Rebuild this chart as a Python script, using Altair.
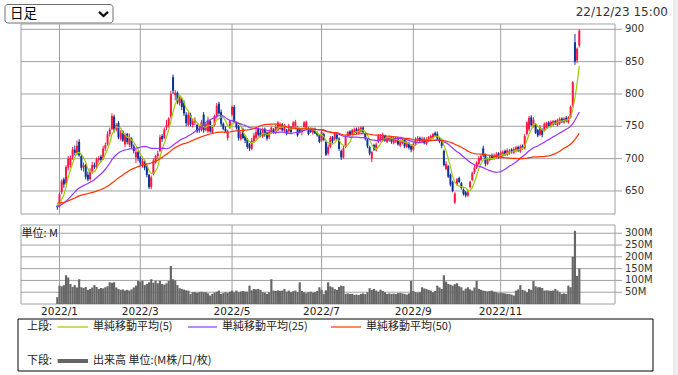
import altair as alt
import pandas as pd

# ---------------- data ----------------
OPEN = [627,626,648,668,662,686,690,702,714,708,726,704,686,690,675,668,680,690,686,698,
        703,700,716,722,738,746,765,745,755,731,742,722,738,722,731,719,702,710,702,690,
        696,688,675,656,676,694,704,712,735,732,748,750,765,826,798,802,786,792,786,768,
        752,768,752,756,752,746,744,768,744,742,758,740,752,766,785,772,754,746,732,748,
        768,780,755,750,730,745,735,730,722,715,727,732,746,740,734,746,740,733,740,745,
        740,744,746,753,743,744,742,748,749,748,747,746,741,749,746,747,747,740,746,740,
        736,728,738,726,708,718,733,730,737,731,712,702,718,735,742,738,740,746,740,742,
        748,738,730,718,700,721,713,726,728,728,735,726,728,733,724,726,732,720,724,729,
        718,724,720,714,722,728,732,726,731,723,728,730,732,740,738,731,725,712,684,688,
        675,664,632,660,670,662,652,648,643,656,667,679,686,692,698,716,706,692,698,705,
        700,703,708,702,705,712,706,708,714,709,712,718,711,720,716,738,745,764,750,752,
        744,737,745,744,748,756,750,752,758,752,754,762,756,763,756,764,782,880,852,875]
HIGH = [629,648,668,671,690,704,705,718,720,728,730,707,694,692,680,685,695,694,702,704,
        706,720,725,742,748,770,768,755,758,744,744,740,740,739,733,722,715,713,704,700,
        698,690,676,674,700,706,712,737,738,748,760,764,805,830,806,804,798,794,790,772,
        772,771,762,764,754,750,760,772,756,765,760,752,768,786,788,776,756,750,745,760,
        782,783,758,752,742,748,737,732,724,732,740,745,748,746,748,748,742,745,750,747,
        752,758,756,755,754,746,754,750,758,760,750,748,748,758,759,749,748,747,748,742,
        738,744,740,728,722,735,735,741,739,733,714,720,736,743,744,746,748,748,749,750,
        750,740,732,720,712,723,725,738,738,740,737,735,736,735,734,734,734,730,733,731,
        728,726,722,725,733,735,734,734,733,733,735,737,740,742,742,733,728,714,696,690,
        677,666,648,670,672,664,654,650,652,666,680,690,696,704,706,720,708,702,706,708,
        708,710,710,712,713,714,716,715,716,718,720,720,722,722,738,758,766,767,764,754,
        746,752,747,756,757,758,759,760,760,762,764,764,764,766,766,782,820,893,872,900]
LOW = [621,624,645,655,660,682,686,698,705,705,703,682,680,668,665,666,676,684,684,694,
       695,698,712,720,734,744,740,742,730,728,726,718,722,718,716,708,693,696,690,686,
       682,671,653,653,674,692,700,710,726,730,744,748,762,800,790,784,782,775,766,750,
       750,750,748,752,740,740,742,740,742,740,740,738,750,762,768,750,744,740,728,746,
       766,755,745,728,728,730,724,715,712,713,725,730,734,733,732,734,728,730,738,738,
       738,742,744,742,740,736,740,738,746,745,734,739,736,747,744,736,740,737,738,734,
       724,726,727,704,705,716,724,728,728,712,698,700,716,733,734,736,738,738,738,740,
       738,728,716,705,695,712,711,724,726,726,726,724,726,723,722,724,720,718,722,716,
       716,714,710,712,720,726,724,724,722,721,726,728,730,734,728,724,716,688,682,670,
       657,648,630,658,662,652,643,640,641,654,665,676,684,690,696,702,688,690,696,698,
       698,700,700,700,703,704,704,706,708,707,710,710,709,714,714,736,742,750,748,738,
       733,735,733,742,746,748,748,750,752,750,752,755,754,756,754,762,780,845,848,872]
CLOSE = [625,645,665,660,687,700,701,714,709,720,705,686,690,672,668,680,690,687,699,701,
         698,716,721,738,745,766,745,752,733,740,728,737,726,734,719,712,710,700,694,696,
         686,675,656,671,697,704,708,733,730,745,752,762,800,805,802,788,795,780,770,755,
         768,753,758,760,742,744,756,744,754,760,742,750,766,782,770,754,746,742,742,758,
         780,757,748,732,738,732,728,718,716,728,736,741,737,735,745,737,731,741,748,740,
         749,756,753,744,752,739,751,741,756,757,736,741,744,756,757,738,741,744,739,736,
         726,741,729,706,718,732,727,739,731,715,702,716,733,741,737,744,745,740,746,748,
         741,731,719,708,710,714,722,735,734,737,728,732,734,726,731,730,722,727,729,719,
         725,717,714,722,730,732,727,731,724,730,733,735,738,736,731,727,720,690,692,672,
         660,650,646,668,664,655,645,643,648,664,678,686,694,701,704,705,692,699,703,701,
         705,707,702,709,710,707,713,712,710,715,717,712,719,716,735,756,763,752,760,740,
         736,749,737,754,755,750,757,758,754,760,761,757,762,758,764,780,818,850,870,898]
# volume in millions
VOLUME = [29,78,75,80,122,112,85,72,80,70,105,71,68,72,60,64,70,80,72,64,
          68,66,71,75,92,90,92,70,64,60,62,57,60,57,62,70,78,98,95,98,
          80,85,92,105,90,98,88,98,85,82,88,98,161,105,100,80,67,64,61,58,
          57,43,50,50,48,50,52,50,50,45,36,43,48,52,57,43,46,50,47,52,
          57,50,57,50,53,55,53,52,78,58,64,62,64,60,50,48,43,50,105,57,
          55,58,56,57,64,52,57,50,54,57,50,92,55,50,46,50,52,48,50,55,
          71,60,43,58,92,75,71,64,60,72,78,76,43,45,42,43,39,40,38,43,
          45,42,50,67,60,64,57,52,61,55,50,43,45,43,44,42,46,47,45,43,
          40,45,98,55,50,48,50,71,66,64,60,57,50,55,78,70,64,122,95,85,
          82,78,84,88,75,71,57,65,71,62,57,70,98,64,60,57,55,53,55,57,
          52,50,46,48,46,45,43,43,40,36,57,62,80,60,57,50,64,60,98,75,
          71,71,68,57,58,57,56,57,64,57,50,43,45,43,78,71,200,310,119,150]
# closes before the visible window (estimated from where the averages start)
PRE_CLOSE = [628,632,637,641,636,630,633,638,635,629,632,636,640,629,
             635,642,646,640,637,643,645,638,634,636,632,
             620,612,608,615,618,610,
             618,625,630,636,641,638,633,628,635,640,634,627,624,628,
             630,624,627,624]
MONTH_TICK_INDEX = [1, 38, 80, 121, 163, 203]
MONTH_LABELS = ["2022/1", "2022/3", "2022/5", "2022/7", "2022/9", "2022/11"]
PRICE_TICKS = [650, 700, 750, 800, 850, 900]
VOLUME_TICKS = [50, 100, 150, 200, 250, 300]
MA_WINDOWS = [5, 25, 50]
MA_COLORS = ["#99cc00", "#9933ff", "#ff3300"]
MA_LABELS = ["単純移動平均(5)", "単純移動平均(25)", "単純移動平均(50)"]

# ---------------- layout / style ----------------
W, H = 594, 280
X_DOMAIN = [-16.62, 255.34]
P_DOMAIN = [614.4, 908.2]
P_RANGE = [190, 0]
V_DOMAIN = [0, 335]
V_RANGE = [280, 201]
GRID = "#a0a0a0"
TXT = "#333333"
RED = "#ff1744"
BLUE = "#0a3399"
VOLC = "#666666"
JP = "Noto Sans CJK JP"
NUM = "DejaVu Sans"

n = len(CLOSE)
df = pd.DataFrame({"idx": list(range(n)), "open": OPEN, "high": HIGH, "low": LOW,
                   "close": CLOSE, "vol": VOLUME})
ma_df = pd.DataFrame({"idx": list(range(-len(PRE_CLOSE), 0)) + list(range(n)),
                      "close": PRE_CLOSE + CLOSE})
months = pd.DataFrame({"idx": MONTH_TICK_INDEX, "label": MONTH_LABELS})
pticks = pd.DataFrame({"v": PRICE_TICKS, "label": [str(v) for v in PRICE_TICKS]})
vticks = pd.DataFrame({"v": VOLUME_TICKS, "label": [f"{v}M" for v in VOLUME_TICKS]})
one = pd.DataFrame({"k": [0]})


def xq(field):
    return alt.X(f"{field}:Q", scale=alt.Scale(domain=X_DOMAIN, nice=False, zero=False, padding=0),
                 axis=None)


def yp(field):
    return alt.Y(f"{field}:Q", scale=alt.Scale(domain=P_DOMAIN, range=P_RANGE, nice=False, zero=False,
                                               padding=0), axis=None)


def yv(field):
    return alt.Y(f"{field}:Q", scale=alt.Scale(domain=V_DOMAIN, range=V_RANGE, nice=False, zero=False,
                                               padding=0), axis=None)


def box(x1, x2, y1, y2, **kw):
    return alt.Chart(one).mark_rect(**kw).encode(
        x=alt.value(x1), x2=alt.value(x2), y=alt.value(y1), y2=alt.value(y2))


def label(text, x, y, size, font, color=TXT, align="left"):
    return alt.Chart(one).mark_text(text=text, align=align, baseline="middle", fontSize=size,
                                    font=font, color=color).encode(x=alt.value(x), y=alt.value(y))


def seg(x1, x2, y, color, width):
    return alt.Chart(one).mark_rule(color=color, strokeWidth=width).encode(
        x=alt.value(x1), x2=alt.value(x2), y=alt.value(y))


layers = []

# right light strip
layers.append(box(653, 657, -24, 351, fill="#f0f0f0"))
layers.append(seg(653, 653, -24, "#dcdcdc", 1).encode(y2=alt.value(351)))

# dropdown
layers.append(box(-16, 92, -19.5, -1, fill="white", stroke="#6e6e6e", strokeWidth=1, cornerRadius=3))
layers.append(label("日足", -11, -10, 13.5, JP, color="#000000"))
layers.append(alt.Chart(one).mark_point(shape="M -1 -0.45 L 0 0.45 L 1 -0.45", filled=False, size=81,
                                        strokeWidth=2.3, color="#111111", opacity=1)
              .encode(x=alt.value(82.5), y=alt.value(-10)))
layers.append(label("22/12/23 15:00", 647, -12, 12, NUM, color=TXT, align="right"))

# panel frames and grids
layers.append(box(0, W, 0, 190, fillOpacity=0, stroke=GRID, strokeWidth=1))
layers.append(box(0, W, 201, 280, fillOpacity=0, stroke=GRID, strokeWidth=1))
layers.append(alt.Chart(months).mark_rule(color=GRID, strokeWidth=1).encode(
    x=xq("idx"), y=alt.value(0), y2=alt.value(190)))
layers.append(alt.Chart(months).mark_rule(color=GRID, strokeWidth=1).encode(
    x=xq("idx"), y=alt.value(201), y2=alt.value(280)))
layers.append(alt.Chart(pticks).mark_rule(color=GRID, strokeWidth=1).encode(
    y=yp("v"), x=alt.value(0), x2=alt.value(W + 7)))
layers.append(alt.Chart(vticks).mark_rule(color=GRID, strokeWidth=1).encode(
    y=yv("v"), x=alt.value(0), x2=alt.value(W + 7)))

# axis labels
layers.append(alt.Chart(pticks).mark_text(align="left", baseline="middle", fontSize=10, font=NUM,
                                          color=TXT).encode(y=yp("v"), x=alt.value(W + 10), text="label:N"))
layers.append(alt.Chart(vticks).mark_text(align="left", baseline="middle", fontSize=10, font=NUM,
                                          color=TXT).encode(y=yv("v"), x=alt.value(W + 10), text="label:N"))
layers.append(alt.Chart(months).mark_text(align="center", baseline="middle", fontSize=10.5, font=NUM,
                                          color="#222222").encode(x=xq("idx"), y=alt.value(288),
                                                                  text="label:N"))
layers.append(label("単位: M", 0.5, 210, 11, JP, color="#222222"))

# volume bars
layers.append(alt.Chart(df).transform_calculate(xa="datum.idx - 0.5", xb="datum.idx + 0.5", zero="0")
              .mark_bar(color=VOLC).encode(x=xq("xa"), x2=alt.X2("xb"), y=yv("vol"), y2=alt.Y2("zero")))

# candles
up = alt.condition("datum.close >= datum.open", alt.value(RED), alt.value(BLUE))
layers.append(alt.Chart(df).mark_rule(strokeWidth=1).encode(
    x=xq("idx"), y=yp("low"), y2=alt.Y2("high"), color=up))
layers.append(alt.Chart(df).mark_bar(size=2).encode(
    x=xq("idx"), y=yp("open"), y2=alt.Y2("close"), color=up))

# moving averages
for win, col in zip(MA_WINDOWS, MA_COLORS):
    layers.append(alt.Chart(ma_df)
                  .transform_window(ma="mean(close)", frame=[-(win - 1), 0], sort=[alt.SortField("idx")])
                  .transform_filter("datum.idx >= 0")
                  .mark_line(color=col, strokeWidth=1.2)
                  .encode(x=xq("idx"), y=yp("ma")))

# legend box
layers.append(box(-3, 632, 295, 347, fillOpacity=0, stroke="#000000", strokeWidth=1))
layers.append(label("上段:", 6, 303, 11, JP, color="#222222"))
layers.append(label("下段:", 6, 337, 11, JP, color="#222222"))
leg_x = [(36.6, 67, 72), (167, 196, 201), (310, 340, 345)]
for (a, b, t), col, txt in zip(leg_x, MA_COLORS, MA_LABELS):
    layers.append(seg(a, b, 303, col, 1.2))
    layers.append(label(txt, t, 303, 11, JP, color="#222222"))
layers.append(seg(36.6, 67, 337, VOLC, 4))
layers.append(label("出来高 単位:(M株/口/枚)", 72, 337, 11, JP, color="#222222"))

chart = (alt.layer(*layers)
         .resolve_scale(y="independent")
         .properties(width=W, height=H, background="white",
                     autosize=alt.AutoSizeParams(type="none"),
                     padding={"left": 21, "top": 24, "right": 63, "bottom": 71})
         .configure_view(stroke="transparent"))

chart.save("out.html", embed_options={"renderer": "svg", "actions": False})
